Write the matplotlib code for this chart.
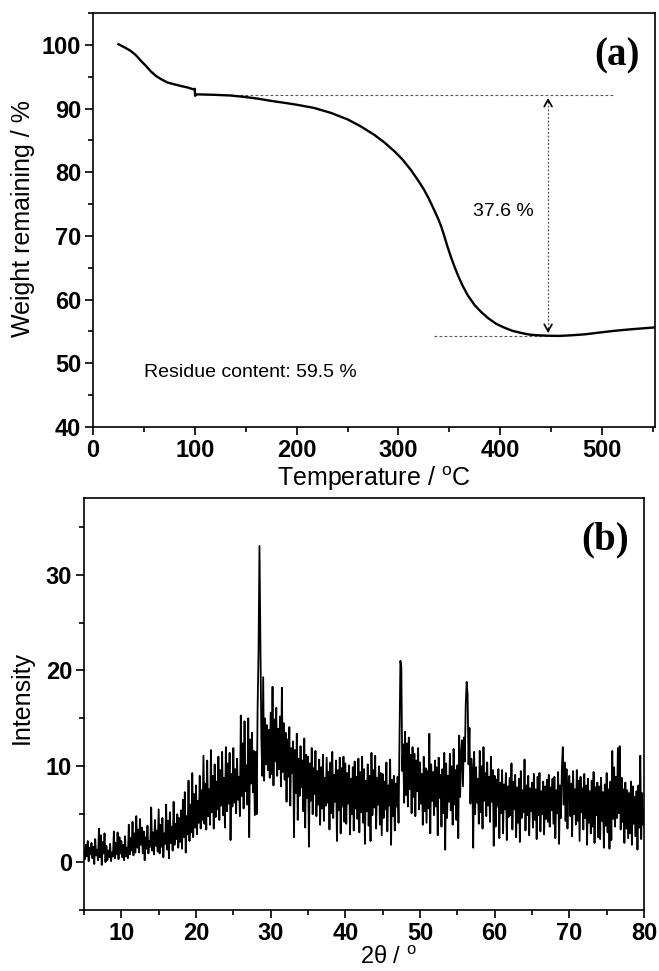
import numpy as np
import matplotlib
matplotlib.use("Agg")
import matplotlib.pyplot as plt
from matplotlib.ticker import MultipleLocator

plt.rcParams["font.family"] = ["Liberation Sans", "DejaVu Sans"]
plt.rcParams["mathtext.fontset"] = "custom"
plt.rcParams["mathtext.rm"] = "Liberation Sans"

# ---- (a) TGA curve ----
tga_temp = [25, 31, 37, 42, 47, 52, 57, 62, 67, 73, 80, 86, 93, 99, 100,
            100.3, 101.5, 104, 120, 135, 150, 162, 175, 188, 200, 217, 234,
            250, 263, 276, 286, 296, 304, 312, 319, 325, 330, 335, 339, 342,
            345, 348, 352, 355, 359, 363, 368, 375, 381, 388, 396, 404, 412,
            421, 429, 437, 447, 458, 470, 483, 496, 512, 529, 553]
tga_weight = [100.1, 99.6, 99.05, 98.4, 97.5, 96.7, 95.8, 95.1, 94.6, 94.1,
              93.8, 93.55, 93.3, 93.0, 93.1, 92.0, 92.2, 92.22, 92.15, 92.05,
              91.8, 91.55, 91.2, 90.9, 90.6, 90.1, 89.3, 88.3, 87.2, 85.9,
              84.7, 83.3, 82.0, 80.4, 78.8, 77.3, 75.8, 74.1, 72.7, 71.5,
              70.0, 68.4, 66.5, 65.2, 63.6, 62.2, 60.7, 59.1, 58.1, 57.1,
              56.2, 55.6, 55.1, 54.75, 54.5, 54.4, 54.33, 54.3, 54.4, 54.55,
              54.8, 55.1, 55.35, 55.65]

upper_level = 92.1
lower_level = 54.33
arrow_x = 447

# ---- (b) XRD pattern, 8 readings per degree from 5 to 80 ----
xrd_start, xrd_step = 5.0, 0.125
xrd_intensity = [
    1.2, 0.3, 1.8, 0.6, 2.2, 0.1, 1.5, 0.8,      # 5
    2.0, 0.4, 1.6, -0.2, 2.4, 0.7, 1.3, 0.2,     # 6
    3.5, 0.5, 2.8, -0.3, 2.1, 0.9, 3.0, 0.0,     # 7
    1.7, 0.2, 1.2, 0.5, 1.9, 0.1, 1.0, 0.6,      # 8
    3.2, 0.4, 2.0, 0.8, 3.1, 0.3, 2.6, 0.9,      # 9
    2.2, 0.5, 1.8, 0.2, 2.7, 0.6, 1.5, 0.4,      # 10
    3.9, 0.8, 2.5, 1.2, 4.2, 0.7, 3.0, 1.0,      # 11
    4.8, 1.5, 3.4, 1.0, 4.5, 1.8, 3.6, 0.9,      # 12
    3.2, 0.2, 2.6, 1.4, 3.8, 0.9, 2.2, 1.6,      # 13
    5.7, 1.2, 3.1, 0.8, 4.4, 1.7, 3.3, 1.1,      # 14
    5.5, 0.9, 3.9, 1.6, 4.6, 0.5, 3.0, 1.9,      # 15
    6.0, 1.3, 4.3, 0.4, 5.2, 2.0, 3.7, 1.2,      # 16
    6.3, 1.8, 4.0, 2.4, 5.0, 1.5, 4.6, 2.1,      # 17
    5.4, 1.4, 6.5, 2.6, 7.3, 1.0, 4.8, 2.9,      # 18
    8.5, 2.2, 6.0, 3.1, 9.3, 2.6, 7.1, 3.6,      # 19
    8.0, 2.9, 6.4, 4.1, 9.0, 3.5, 7.5, 4.4,      # 20
    11.1, 4.0, 8.2, 3.4, 10.6, 4.8, 7.6, 3.9,    # 21
    11.7, 5.2, 9.0, 3.5, 10.2, 4.7, 8.4, 5.5,    # 22
    11.0, 4.4, 9.6, 5.9, 11.5, 4.9, 8.8, 3.6,    # 23
    12.0, 5.3, 10.3, 6.1, 11.4, 2.3, 9.2, 5.8,   # 24
    11.9, 6.2, 9.7, 5.1, 10.8, 6.5, 8.9, 4.8,    # 25
    15.3, 6.9, 12.4, 5.6, 14.7, 7.4, 10.1, 6.0,  # 26
    15.0, 2.6, 12.8, 8.2, 13.5, 7.3, 11.6, 4.9,  # 27
    11.5, 5.0, 16.0, 22.0, 33.0, 23.5, 13.0, 9.0,  # 28
    19.3, 8.5, 15.0, 10.2, 14.3, 9.6, 13.8, 8.8,   # 29
    15.6, 9.2, 18.3, 8.0, 14.9, 10.5, 16.1, 9.0,   # 30
    13.9, 9.7, 15.2, 7.9, 18.2, 9.4, 14.5, 8.6,    # 31
    13.5, 6.3, 12.8, 8.9, 14.1, 5.9, 11.9, 9.3,    # 32
    12.6, 2.6, 11.7, 7.2, 13.4, 4.4, 10.8, 6.9,    # 33
    12.1, 7.8, 10.6, 5.3, 12.9, 3.6, 11.2, 6.7,    # 34
    11.0, 1.6, 10.3, 6.4, 11.9, 5.0, 9.8, 7.1,     # 35
    11.6, 4.8, 9.5, 6.0, 10.7, 3.9, 9.9, 5.6,      # 36
    11.2, 4.3, 8.8, 5.9, 10.9, 6.2, 9.4, 3.4,      # 37
    10.4, 5.1, 11.5, 4.6, 9.1, 6.3, 10.6, 2.2,     # 38
    9.6, 5.4, 10.9, 3.0, 9.8, 5.8, 11.0, 4.2,      # 39
    10.3, 4.0, 9.3, 6.1, 10.1, 2.9, 8.7, 5.0,      # 40
    9.9, 3.3, 10.5, 5.6, 8.9, 4.5, 10.8, 3.1,      # 41
    9.4, 5.2, 11.0, 4.1, 9.7, 1.9, 8.5, 5.3,       # 42
    10.2, 3.8, 9.0, 2.2, 11.4, 4.9, 9.6, 5.7,      # 43
    11.1, 3.5, 8.8, 6.0, 10.0, 3.9, 9.3, 2.8,      # 44
    9.2, 4.6, 8.4, 5.5, 10.4, 3.2, 8.0, 5.9,       # 45
    10.7, 1.8, 8.6, 4.8, 9.0, 3.3, 8.2, 5.8,       # 46
    8.9, 4.1, 13.0, 21.0, 20.3, 9.5, 12.3, 6.2,    # 47
    13.6, 7.0, 12.4, 5.8, 13.0, 7.6, 11.2, 5.1,    # 48
    12.0, 6.8, 11.3, 4.8, 10.6, 7.4, 11.9, 5.5,    # 49
    10.4, 6.1, 9.2, 3.9, 11.0, 5.3, 9.8, 4.1,      # 50
    9.5, 5.6, 13.4, 3.0, 10.2, 6.4, 9.4, 4.9,      # 51
    10.6, 5.8, 9.9, 2.8, 10.9, 6.7, 9.1, 3.7,      # 52
    9.7, 5.1, 11.4, 1.3, 10.3, 4.6, 9.0, 6.3,      # 53
    11.3, 5.4, 10.0, 3.9, 11.8, 6.0, 9.6, 4.4,     # 54
    10.1, 2.5, 13.2, 6.8, 11.2, 12.7, 7.9, 13.0,   # 55
    10.5, 16.5, 18.8, 17.5, 10.2, 14.0, 6.1, 10.8, # 56
    9.5, 1.5, 11.5, 5.0, 9.9, 6.2, 8.7, 4.0,       # 57
    11.6, 5.2, 10.0, 3.5, 12.0, 6.4, 9.3, 4.8,     # 58
    10.4, 5.9, 8.9, 4.2, 11.0, 6.3, 9.6, 1.7,      # 59
    9.0, 3.7, 8.6, 5.8, 9.7, 2.5, 8.3, 5.1,        # 60
    9.6, 3.0, 8.1, 5.5, 9.3, 2.3, 7.9, 4.7,        # 61
    8.8, 4.9, 10.3, 3.4, 8.4, 5.5, 9.1, 2.6,       # 62
    7.8, 4.1, 8.7, 2.1, 9.5, 4.6, 7.5, 5.2,        # 63
    10.7, 3.3, 8.0, 4.9, 9.0, 2.8, 7.7, 5.3,       # 64
    8.3, 3.6, 9.2, 4.4, 7.6, 2.4, 8.9, 4.9,        # 65
    9.3, 3.2, 7.4, 5.0, 8.4, 2.9, 7.9, 4.5,        # 66
    8.6, 4.2, 9.1, 3.7, 7.8, 5.4, 8.7, 4.0,        # 67
    8.9, 2.5, 7.5, 5.1, 9.4, 1.9, 8.0, 4.6,        # 68
    9.8, 12.0, 6.0, 10.4, 4.3, 9.7, 3.5, 8.1,      # 69
    9.0, 4.8, 8.2, 2.7, 9.5, 5.0, 7.6, 3.9,        # 70
    9.6, 4.3, 8.5, 2.2, 8.9, 5.2, 7.7, 3.4,        # 71
    9.2, 4.6, 8.0, 1.8, 8.7, 4.1, 7.4, 3.0,        # 72
    8.5, 3.7, 9.4, 2.0, 7.8, 4.9, 8.3, 2.6,        # 73
    7.9, 2.4, 8.8, 4.3, 7.3, 1.5, 8.1, 3.8,        # 74
    9.3, 3.1, 7.6, 1.4, 8.4, 2.3, 11.6, 4.5,       # 75
    9.9, 3.7, 8.9, 4.6, 11.9, 5.1, 12.1, 3.4,      # 76
    8.8, 4.2, 7.6, 2.0, 8.3, 3.5, 7.5, 2.5,        # 77
    7.2, 3.0, 8.4, 1.8, 7.9, 4.0, 6.8, 2.7,        # 78
    7.4, 1.3, 8.0, 3.6, 11.1, 2.4, 7.2, 3.9,       # 79
    5.5,                                           # 80
]
two_theta = xrd_start + xrd_step * np.arange(len(xrd_intensity))

W, H = 659, 971
fig = plt.figure(figsize=(W / 100, H / 100), dpi=100)


def px_axes(left, top, right, bottom):
    return fig.add_axes([left / W, 1 - bottom / H, (right - left) / W, (bottom - top) / H])


def style_axes(ax):
    for side in ("top", "right", "bottom", "left"):
        ax.spines[side].set_linewidth(1.2)
    ax.tick_params(which="both", direction="out", top=False, right=False, width=1.2)
    ax.tick_params(which="major", length=6, pad=2.5, labelsize=17)
    ax.tick_params(which="minor", length=3.5)
    for lab in ax.get_xticklabels() + ax.get_yticklabels():
        lab.set_fontweight("bold")


# ---- panel (a) ----
ax1 = px_axes(93, 13, 655, 427)
ax1.plot(tga_temp, tga_weight, color="black", linewidth=1.7, zorder=3)
ax1.plot([125, 511], [upper_level, upper_level], color="#555555",
         linewidth=0.8, linestyle=(0, (2.5, 2)), zorder=2)
ax1.plot([335, 447], [lower_level, lower_level], color="#555555",
         linewidth=0.8, linestyle=(0, (2.5, 2)), zorder=2)
ax1.plot([arrow_x, arrow_x], [lower_level + 0.6, upper_level - 0.6], color="#555555",
         linewidth=0.9, linestyle=(0, (1.5, 1.5)), zorder=2)
for y_tip, y_tail in ((upper_level, upper_level - 1.5), (lower_level, lower_level + 1.5)):
    ax1.annotate("", xy=(arrow_x, y_tip), xytext=(arrow_x, y_tail),
                 arrowprops=dict(arrowstyle="->,head_length=0.5,head_width=0.28",
                                 color="black", linewidth=1.2))
ax1.text(403, 73.8, "37.6 %", fontsize=14, ha="center", va="center")
ax1.text(50, 48.5, "Residue content: 59.5 %", fontsize=14, ha="left", va="center")
ax1.set_xlim(0, 552)
ax1.set_ylim(40, 105)
ax1.set_xticks([0, 100, 200, 300, 400, 500])
ax1.xaxis.set_minor_locator(MultipleLocator(50))
ax1.set_yticks([40, 50, 60, 70, 80, 90, 100])
ax1.yaxis.set_minor_locator(MultipleLocator(5))
style_axes(ax1)
fig.text(617 / W, 1 - 56 / H, "(a)", family="Liberation Serif", fontweight="bold",
         fontsize=28, ha="center", va="center")

# ---- panel (b) ----
ax2 = px_axes(84, 498, 644, 910)
ax2.plot(two_theta, xrd_intensity, color="black", linewidth=1.3)
ax2.set_xlim(5, 80)
ax2.set_ylim(-5, 38)
ax2.set_xticks([10, 20, 30, 40, 50, 60, 70, 80])
ax2.xaxis.set_minor_locator(MultipleLocator(5))
ax2.set_yticks([0, 10, 20, 30])
ax2.yaxis.set_minor_locator(MultipleLocator(5))
style_axes(ax2)
fig.text(605 / W, 1 - 540 / H, "(b)", family="Liberation Serif", fontweight="bold",
         fontsize=28, ha="center", va="center")

# axis labels placed at the reference positions
fig.text(23 / W, 1 - 219 / H, "Weight remaining / %", fontsize=18, rotation=90,
         ha="center", va="center")
fig.text(374 / W, 1 - 486 / H, r"Temperature / $^{\rm o}$C", fontsize=18,
         ha="center", va="baseline")
fig.text(22 / W, 1 - 697 / H, "Intensity", fontsize=18, rotation=90,
         ha="center", va="center")
fig.text(388 / W, 1 - 969 / H, r"2θ / $^{\rm o}$", fontsize=17,
         ha="center", va="bottom")

fig.savefig("out.png", dpi=100)
